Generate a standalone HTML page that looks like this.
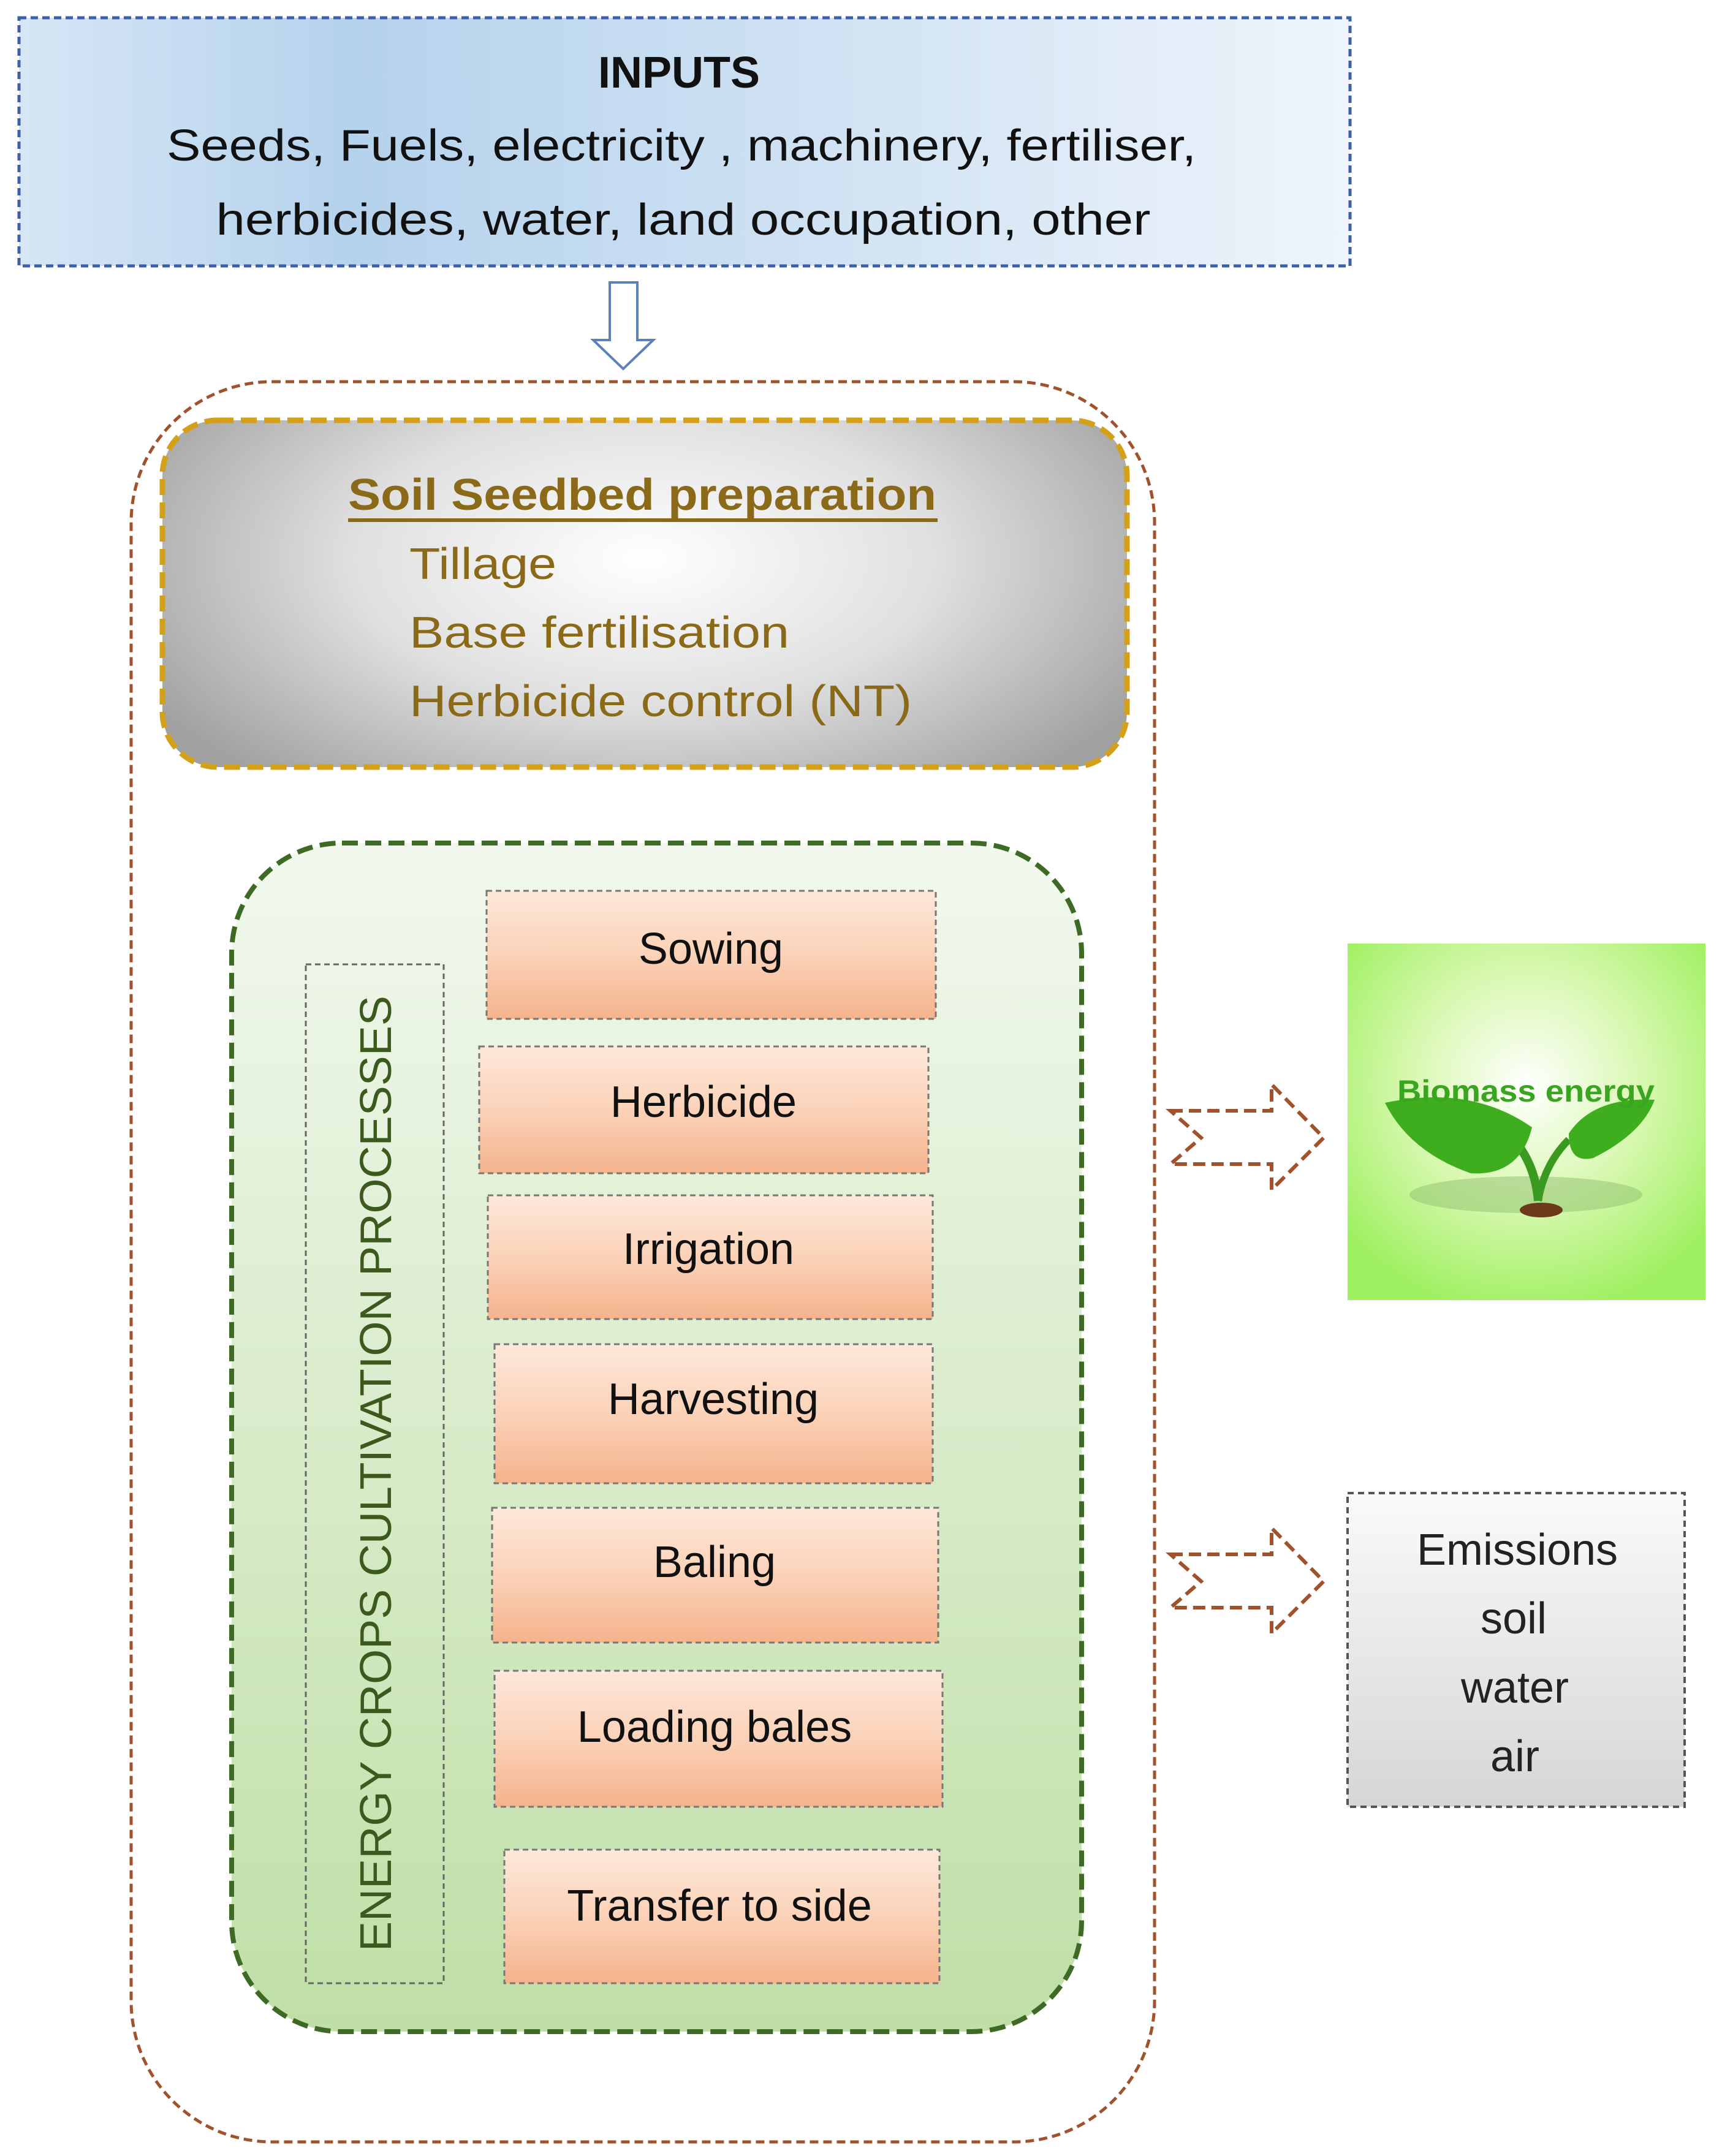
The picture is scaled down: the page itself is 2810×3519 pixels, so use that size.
<!DOCTYPE html>
<html><head><meta charset="utf-8"><style>html,body{margin:0;padding:0;background:#fff}svg{display:block}text{font-family:"Liberation Sans",sans-serif}</style></head><body>
<svg width="2810" height="3519" viewBox="0 0 2810 3519" xmlns="http://www.w3.org/2000/svg">
<defs>
<linearGradient id="blue" x1="0" y1="0" x2="1" y2="0">
<stop offset="0" stop-color="#d6e6f5"/><stop offset="0.25" stop-color="#b5d2ec"/><stop offset="1" stop-color="#eef4fb"/></linearGradient>
<radialGradient id="gray" cx="0.5" cy="0.4" r="0.6" gradientTransform="translate(0.5 0.4) scale(1 1.4) translate(-0.5 -0.4)">
<stop offset="0" stop-color="#ffffff"/><stop offset="0.5" stop-color="#e0e0e0"/><stop offset="1" stop-color="#a0a0a0"/></radialGradient>
<linearGradient id="green" x1="0" y1="0" x2="0" y2="1">
<stop offset="0" stop-color="#f2f8ee"/><stop offset="1" stop-color="#bfdfa6"/></linearGradient>
<linearGradient id="orange" x1="0" y1="0" x2="0" y2="1">
<stop offset="0" stop-color="#fde8da"/><stop offset="0.5" stop-color="#fbd2b8"/><stop offset="1" stop-color="#f4b38c"/></linearGradient>
<linearGradient id="emis" x1="0" y1="0" x2="0" y2="1">
<stop offset="0" stop-color="#fafafa"/><stop offset="1" stop-color="#d6d6d6"/></linearGradient>
<radialGradient id="bio" cx="0.5" cy="0.4" r="0.65">
<stop offset="0" stop-color="#ffffff"/><stop offset="0.5" stop-color="#d8f8b0"/><stop offset="1" stop-color="#9ef060"/></radialGradient>
</defs>

<rect x="31" y="29" width="2172" height="405" fill="url(#blue)" stroke="#3d5fa8" stroke-width="5" stroke-dasharray="12 7"/>
<text x="1108" y="143" font-size="72" font-weight="bold" text-anchor="middle" fill="#111">INPUTS</text>
<text x="1112" y="262" font-size="72" text-anchor="middle" fill="#111" textLength="1680" lengthAdjust="spacingAndGlyphs">Seeds, Fuels, electricity , machinery, fertiliser,</text>
<text x="1115" y="383" font-size="72" text-anchor="middle" fill="#111" textLength="1525" lengthAdjust="spacingAndGlyphs">herbicides, water, land occupation, other</text>

<path d="M995 461 H1040 V555 H1066 L1017 602 L968 555 H995 Z" fill="#fff" stroke="#5a82b8" stroke-width="4"/>

<rect x="214" y="623" width="1670" height="2873" rx="230" fill="none" stroke="#a0522d" stroke-width="5" stroke-dasharray="14 8"/>

<rect x="265" y="686" width="1574" height="566" rx="90" fill="url(#gray)" stroke="#d4a017" stroke-width="9" stroke-dasharray="26 12"/>
<text x="1048" y="832" font-size="72" font-weight="bold" text-anchor="middle" fill="#8a6a18" textLength="960" lengthAdjust="spacingAndGlyphs">Soil Seedbed preparation</text>
<rect x="568" y="846" width="962" height="6" fill="#8a6a18"/>
<g font-size="72" fill="#8a6a18">
<text x="668" y="945" textLength="240" lengthAdjust="spacingAndGlyphs">Tillage</text>
<text x="668" y="1057" textLength="620" lengthAdjust="spacingAndGlyphs">Base fertilisation</text>
<text x="668" y="1169" textLength="820" lengthAdjust="spacingAndGlyphs">Herbicide control (NT)</text>
</g>

<rect x="378" y="1376" width="1387" height="1940" rx="180" fill="url(#green)" stroke="#3d6b25" stroke-width="8" stroke-dasharray="26 12"/>
<rect x="499" y="1574" width="225" height="1663" fill="none" stroke="#666" stroke-width="3" stroke-dasharray="9 6"/>
<text transform="translate(638 2405) rotate(-90)" font-size="72" text-anchor="middle" fill="#3d5a1e" textLength="1560" lengthAdjust="spacingAndGlyphs">ENERGY CROPS CULTIVATION PROCESSES</text>

<g stroke="#777" stroke-width="3" stroke-dasharray="9 6" fill="url(#orange)">
<rect x="794" y="1454" width="733" height="209"/>
<rect x="782" y="1708" width="733" height="207"/>
<rect x="796" y="1951" width="726" height="202"/>
<rect x="807" y="2194" width="715" height="227"/>
<rect x="803" y="2461" width="728" height="220"/>
<rect x="807" y="2727" width="731" height="222"/>
<rect x="823" y="3019" width="710" height="218"/>
</g>
<g font-size="72" text-anchor="middle" fill="#111">
<text x="1160" y="1573">Sowing</text>
<text x="1148" y="1823">Herbicide</text>
<text x="1156" y="2063">Irrigation</text>
<text x="1164" y="2308">Harvesting</text>
<text x="1166" y="2574">Baling</text>
<text x="1166" y="2843">Loading bales</text>
<text x="1174" y="3135">Transfer to side</text>
</g>

<g fill="none" stroke="#a0522d" stroke-width="6" stroke-dasharray="20 10">
<path d="M1910 1813 H2075 V1770 L2160 1857 L2075 1942 V1900 H1910 L1960 1857 Z"/>
<path d="M1910 2537 H2075 V2494 L2160 2581 L2075 2666 V2624 H1910 L1960 2581 Z"/>
</g>

<rect x="2199" y="1540" width="584" height="582" fill="url(#bio)"/>
<ellipse cx="2490" cy="1950" rx="190" ry="30" fill="#8fc070" opacity="0.5"/>
<path d="M2510 1960 Q2505 1900 2470 1860" stroke="#3a9a20" stroke-width="14" fill="none"/>
<path d="M2510 1960 Q2520 1900 2560 1860" stroke="#3a9a20" stroke-width="12" fill="none"/>
<path d="M2260 1800 Q2400 1770 2500 1840 Q2480 1920 2400 1915 Q2300 1880 2260 1800 Z" fill="#3fae1e"/>
<path d="M2700 1795 Q2600 1790 2560 1850 Q2560 1900 2600 1890 Q2680 1850 2700 1795 Z" fill="#3fae1e"/>
<ellipse cx="2515" cy="1975" rx="35" ry="12" fill="#6b3a1a"/>
<text x="2490" y="1798" font-size="50" font-weight="bold" text-anchor="middle" fill="#3aa520" textLength="420" lengthAdjust="spacingAndGlyphs">Biomass energy</text>

<rect x="2199" y="2437" width="550" height="512" fill="url(#emis)" stroke="#555" stroke-width="4" stroke-dasharray="10 7"/>
<g font-size="72" text-anchor="middle" fill="#222">
<text x="2476" y="2554">Emissions</text>
<text x="2470" y="2666">soil</text>
<text x="2472" y="2779">water</text>
<text x="2472" y="2891">air</text>
</g>
</svg>
</body></html>
